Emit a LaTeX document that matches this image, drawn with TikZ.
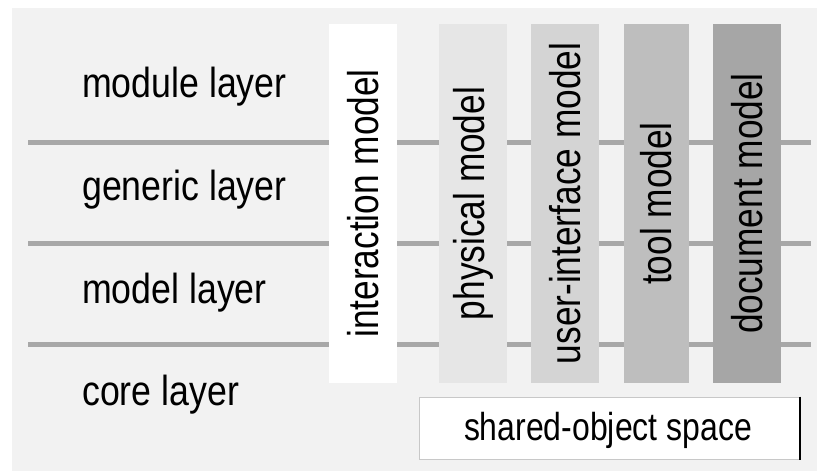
\documentclass[tikz,border=0pt]{standalone}
\usepackage{fontspec}
\setmainfont{Liberation Sans}
\newfontfamily\narrowfont[FakeStretch=0.82]{Liberation Sans}
\newfontfamily\labelfont[FakeStretch=0.85]{Liberation Sans}
\definecolor{bgc}{HTML}{F2F2F2}
\definecolor{linec}{HTML}{A8A8A8}
\definecolor{colA}{HTML}{FFFFFF}
\definecolor{colB}{HTML}{E6E6E6}
\definecolor{colC}{HTML}{D4D4D4}
\definecolor{colD}{HTML}{BEBEBE}
\definecolor{colE}{HTML}{A6A6A6}
\definecolor{boxborder}{HTML}{C8C8C8}
\begin{document}
\begin{tikzpicture}[x=1pt,y=-1pt,
  layerlabel/.style={anchor=base west,inner sep=0pt,font=\labelfont\fontsize{42}{48}\selectfont},
  layerline/.style={draw=linec,line width=5pt},
  column/.style={minimum width=68pt,minimum height=359pt,inner sep=0pt,draw=none},
  coltext/.style={rotate=90,font=\narrowfont\fontsize{43}{48}\selectfont,inner sep=0pt}]
\useasboundingbox (0,0) rectangle (817,471);
\fill[white] (0,0) rectangle (817,471);
\fill[bgc] (12,8) rectangle (817,471);
% layer separators
\coordinate (l1a) at (28,142); \coordinate (l1b) at (811,142);
\coordinate (l2a) at (28,243); \coordinate (l2b) at (811,243);
\coordinate (l3a) at (28,344); \coordinate (l3b) at (811,344);
\draw[layerline] (l1a) -- (l1b);
\draw[layerline] (l2a) -- (l2b);
\draw[layerline] (l3a) -- (l3b);
% layer labels
\node[layerlabel] (module) at (82,97) {module layer};
\node[layerlabel] (generic) at (82,200) {generic layer};
\node[layerlabel] (model) at (82,303) {model layer};
\node[layerlabel] (core) at (82,405) {core layer};
% columns
\node[column,fill=colA] (c1) at (363,203.5) {};
\node[column,fill=colB] (c2) at (473,203.5) {};
\node[column,fill=colC] (c3) at (565,203.5) {};
\node[column,fill=colD,minimum width=65pt] (c4) at (656.5,203.5) {};
\node[column,fill=colE] (c5) at (747,203.5) {};
\node[coltext] (t1) at (c1.center) {interaction model};
\node[coltext] (t2) at (c2.center) {physical model};
\node[coltext] (t3) at (c3.center) {user-interface model};
\node[coltext] (t4) at (c4.center) {tool model};
\node[coltext] (t5) at (c5.center) {document model};
% shared-object space
\node[draw=boxborder,fill=white,line width=1pt,minimum width=380pt,minimum height=62pt,inner sep=0pt] (shared) at (609,428) {};
\node[anchor=base,inner sep=0pt,font=\narrowfont\fontsize{39}{44}\selectfont] (sharedtext) at (608,440) {shared-object space};
\draw[black,line width=2pt] (shared.north east) -- (shared.south east);
\end{tikzpicture}
\end{document}
